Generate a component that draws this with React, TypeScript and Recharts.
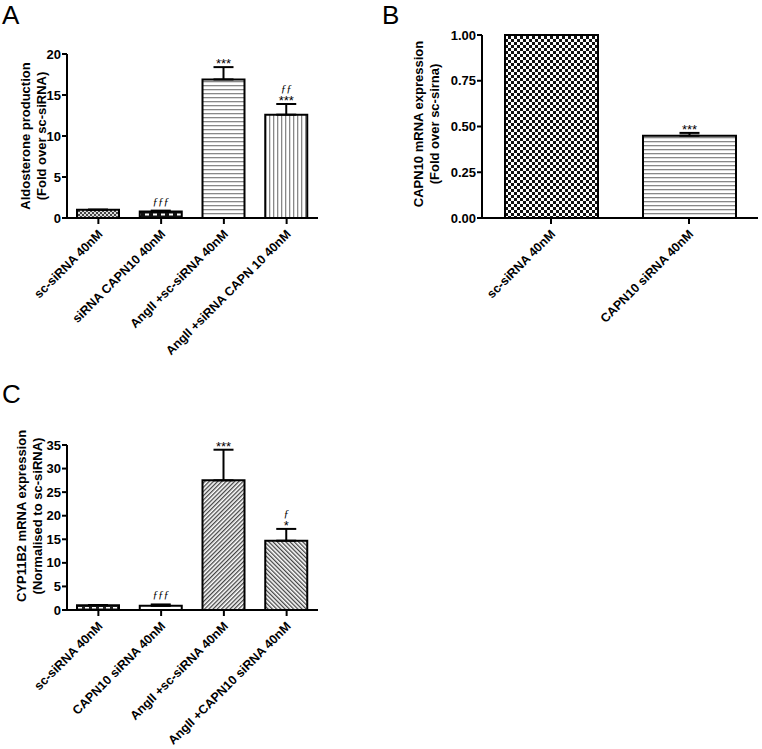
import React from "react";
import { BarChart, Bar, XAxis, YAxis, ErrorBar, Cell, LabelList } from "recharts";

// Panel A: aldosterone production
const aGroups = ["sc-siRNA 40nM", "siRNA CAPN10 40nM", "AngII +sc-siRNA 40nM", "AngII +siRNA CAPN 10 40nM"];
const aMeans = [1.0, 0.78, 16.9, 12.6];
const aErrs = [0.02, 0.12, 1.5, 1.3];
const aStars = ["", "", "***", "***"];
const aFs = ["", "ƒƒƒ", "", "ƒƒ"];
const aTicks = [0, 5, 10, 15, 20];

// Panel B: CAPN10 knockdown
const bGroups = ["sc-siRNA 40nM", "CAPN10 siRNA 40nM"];
const bMeans = [1.0, 0.45];
const bErrs = [0, 0.015];
const bStars = ["", "***"];
const bFs = ["", ""];
const bTicks = [0, 0.25, 0.5, 0.75, 1.0];

// Panel C: CYP11B2 expression
const cGroups = ["sc-siRNA 40nM", "CAPN10 siRNA 40nM", "AngII +sc-siRNA 40nM", "AngII +CAPN10 siRNA 40nM"];
const cMeans = [1.0, 0.88, 27.5, 14.7];
const cErrs = [0.05, 0.3, 6.5, 2.5];
const cStars = ["", "", "***", "*"];
const cFs = ["", "ƒƒƒ", "", "ƒ"];
const cTicks = [0, 5, 10, 15, 20, 25, 30, 35];

const aFills = ["url(#pDots)", "url(#pBrick)", "url(#pHoriz)", "url(#pVert)"];
const bFills = ["url(#pChecker)", "url(#pHoriz)"];
const cFills = ["url(#pDash)", "#fff", "url(#pDiagUp)", "url(#pDiagDown)"];

const FONT = "'Liberation Sans', Arial, Helvetica, sans-serif";

const toRows = (groups: string[], means: number[], errs: number[]) =>
  groups.map((g, i) => ({ group: g, mean: means[i], err: [0, errs[i]] }));

function SlantTick({ x, y, payload }: any) {
  return (
    <g transform={`translate(${x + 5},${y + 9})`}>
      <text textAnchor="end" transform="rotate(-45)" fontSize={12.5} fontWeight="bold" fontFamily={FONT} fill="#000">
        {payload.value}
      </text>
    </g>
  );
}

function YLabel({ lines, lx, ly }: any) {
  return (
    <text transform={`translate(${lx},${ly}) rotate(-90)`} textAnchor="middle" fontSize={13} fontWeight="bold" fontFamily={FONT} fill="#000">
      <tspan x={0} dy={0}>{lines[0]}</tspan>
      <tspan x={0} dy={16}>{lines[1]}</tspan>
    </text>
  );
}

function makeMarks(groups: string[], means: number[], errs: number[], stars: string[], fs: string[]) {
  return (props: any) => {
    const vb = props.viewBox || props;
    const i = groups.indexOf(props.value);
    if (i < 0 || !means[i]) return null;
    const ppu = vb.height / means[i];
    const top = vb.y - errs[i] * ppu;
    const cx = vb.x + vb.width / 2;
    const out: any[] = [];
    let base = top - 3;
    if (stars[i]) {
      out.push(
        <text key="s" x={cx} y={base + 4} textAnchor="middle" fontSize={13} fontFamily={FONT} fill="#000">
          {stars[i]}
        </text>
      );
      base -= 9;
    } else {
      base -= 3;
    }
    if (fs[i]) {
      out.push(
        <text key="f" x={cx} y={base} textAnchor="middle" fontSize={11} fontStyle="italic" fontFamily="'Liberation Serif', serif" fill="#000">
          {fs[i]}
        </text>
      );
    }
    return <g>{out}</g>;
  };
}

function Panel(props: any) {
  const { groups, means, errs, stars, fs, ticks, fills, width, height, margin, yWidth, xHeight, barSize, fmt, lines, lx, ly } = props;
  const rows = toRows(groups, means, errs);
  return (
    <BarChart width={width} height={height} data={rows} margin={margin} barCategoryGap={0}>
      <XAxis
        dataKey="group"
        interval={0}
        height={xHeight}
        tick={<SlantTick />}
        tickSize={6}
        axisLine={{ stroke: "#000", strokeWidth: 2 }}
        tickLine={{ stroke: "#000", strokeWidth: 2 }}
      />
      <YAxis
        domain={[ticks[0], ticks[ticks.length - 1]]}
        ticks={ticks}
        interval={0}
        width={yWidth}
        tickSize={5}
        tickMargin={1}
        tickFormatter={fmt}
        tick={{ fontSize: 13, fontWeight: "bold", fill: "#000", fontFamily: FONT }}
        axisLine={{ stroke: "#000", strokeWidth: 2 }}
        tickLine={{ stroke: "#000", strokeWidth: 2 }}
        label={<YLabel lines={lines} lx={lx} ly={ly} />}
      />
      <Bar dataKey="mean" barSize={barSize} stroke="#000" strokeWidth={2} isAnimationActive={false}>
        {rows.map((r, i) => (
          <Cell key={r.group} fill={fills[i]} />
        ))}
        <ErrorBar dataKey="err" width={10} stroke="#000" strokeWidth={2} direction="y" />
        <LabelList dataKey="group" content={makeMarks(groups, means, errs, stars, fs)} />
      </Bar>
    </BarChart>
  );
}

function Patterns() {
  return (
    <svg width={0} height={0} style={{ position: "absolute" }}>
      <defs>
        <pattern id="pDots" width="4" height="4" patternUnits="userSpaceOnUse">
          <rect width="4" height="4" fill="#ddd" />
          <rect width="2" height="2" fill="#444" />
          <rect x="2" y="2" width="2" height="2" fill="#444" />
        </pattern>
        <pattern id="pBrick" width="8" height="4" patternUnits="userSpaceOnUse">
          <rect width="8" height="4" fill="#111" />
          <rect x="1" y="1.5" width="4" height="2" fill="#fff" />
        </pattern>
        <pattern id="pDash" width="7" height="5" patternUnits="userSpaceOnUse">
          <rect width="7" height="5" fill="#222" />
          <rect x="1" y="2" width="4" height="1.5" fill="#fff" />
        </pattern>
        <pattern id="pHoriz" width="4" height="4" patternUnits="userSpaceOnUse">
          <rect width="4" height="4" fill="#fff" />
          <rect y="1" width="4" height="1.3" fill="#888" />
        </pattern>
        <pattern id="pVert" width="4" height="4" patternUnits="userSpaceOnUse">
          <rect width="4" height="4" fill="#fff" />
          <rect x="1" width="1.3" height="4" fill="#888" />
        </pattern>
        <pattern id="pChecker" width="6" height="6" patternUnits="userSpaceOnUse">
          <rect width="6" height="6" fill="#fff" />
          <rect width="3" height="3" fill="#111" />
          <rect x="3" y="3" width="3" height="3" fill="#111" />
        </pattern>
        <pattern id="pDiagUp" width="3" height="3" patternUnits="userSpaceOnUse" patternTransform="rotate(45)">
          <rect width="3" height="3" fill="#fff" />
          <rect width="1.3" height="3" fill="#444" />
        </pattern>
        <pattern id="pDiagDown" width="3" height="3" patternUnits="userSpaceOnUse" patternTransform="rotate(-45)">
          <rect width="3" height="3" fill="#fff" />
          <rect width="1.3" height="3" fill="#444" />
        </pattern>
      </defs>
    </svg>
  );
}

function Letters() {
  const st = { fontFamily: FONT, fontSize: 26, fill: "#000" };
  return (
    <svg width={762} height={749} style={{ position: "absolute", left: 0, top: 0, pointerEvents: "none" }}>
      <text x={2} y={24} {...st}>A</text>
      <text x={382} y={24} {...st}>B</text>
      <text x={2} y={403} {...st}>C</text>
    </svg>
  );
}

export default function App() {
  return (
    <div style={{ position: "absolute", left: 0, top: 0, width: 762, height: 749, background: "#fff", overflow: "hidden" }}>
      <Patterns />
      <div style={{ position: "absolute", left: 0, top: 0 }}>
        <Panel
          groups={aGroups} means={aMeans} errs={aErrs} stars={aStars} fs={aFs} ticks={aTicks} fills={aFills}
          width={330} height={370} margin={{ top: 54, right: 12, bottom: 0, left: 0 }}
          yWidth={67} xHeight={152} barSize={42} fmt={(v: number) => String(v)}
          lines={["Aldosterone production", "(Fold over sc-siRNA)"]} lx={30} ly={136}
        />
      </div>
      <div style={{ position: "absolute", left: 370, top: 0 }}>
        <Panel
          groups={bGroups} means={bMeans} errs={bErrs} stars={bStars} fs={bFs} ticks={bTicks} fills={bFills}
          width={392} height={370} margin={{ top: 35, right: 4, bottom: 0, left: 0 }}
          yWidth={112} xHeight={152} barSize={93} fmt={(v: number) => v.toFixed(2)}
          lines={["CAPN10 mRNA expression", "(Fold over sc-sirna)"]} lx={53} ly={124}
        />
      </div>
      <div style={{ position: "absolute", left: 0, top: 380 }}>
        <Panel
          groups={cGroups} means={cMeans} errs={cErrs} stars={cStars} fs={cFs} ticks={cTicks} fills={cFills}
          width={330} height={369} margin={{ top: 65, right: 12, bottom: 0, left: 0 }}
          yWidth={67} xHeight={139} barSize={42} fmt={(v: number) => String(v)}
          lines={["CYP11B2 mRNA expression", "(Normalised to sc-siRNA)"]} lx={26} ly={136}
        />
      </div>
      <Letters />
    </div>
  );
}
